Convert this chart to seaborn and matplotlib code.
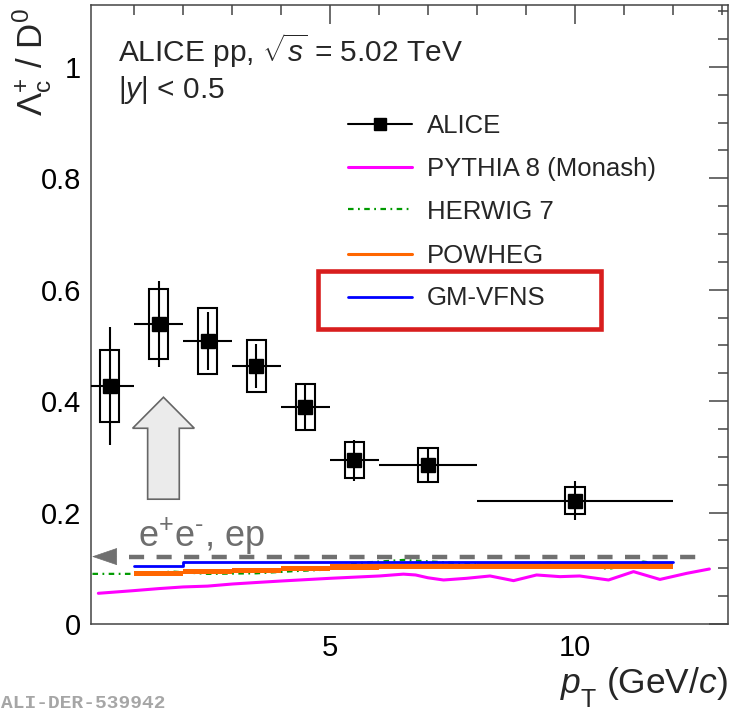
import matplotlib
matplotlib.use("Agg")
import matplotlib.pyplot as plt
import seaborn as sns
from matplotlib.patches import Rectangle, FancyArrow
from matplotlib.ticker import MultipleLocator, FuncFormatter

# ALICE Lambda_c+ / D0 in pp collisions at 5.02 TeV
pt_lo = [0, 1, 2, 3, 4, 5, 6, 8]
pt_hi = [1, 2, 3, 4, 5, 6, 8, 12]
ratio = [0.427, 0.538, 0.508, 0.463, 0.390, 0.294, 0.285, 0.221]
stat_err = [0.106, 0.077, 0.052, 0.040, 0.040, 0.037, 0.031, 0.035]
syst_err = [0.064, 0.063, 0.059, 0.047, 0.041, 0.032, 0.031, 0.024]

# Model predictions, binned (edges) or as curves
model_edges = [1, 2, 3, 4, 5, 6, 8, 12]
powheg_lo = [0.086, 0.089, 0.092, 0.095, 0.097, 0.098, 0.098]
powheg_hi = [0.096, 0.098, 0.101, 0.104, 0.107, 0.108, 0.109]
gmvfns = [0.104, 0.111, 0.111, 0.112, 0.112, 0.112, 0.112]

herwig_pt = [0.15, 1.0, 1.8, 2.5, 3.5, 4.3, 4.8, 5.5, 6.5, 7.5, 8.5, 9.5, 10.7, 11.4, 12.0]
herwig = [0.090, 0.090, 0.094, 0.090, 0.091, 0.095, 0.097, 0.109, 0.115, 0.110,
          0.108, 0.110, 0.099, 0.112, 0.105]

pythia_pt = [0.27, 0.98, 1.5, 2.0, 2.5, 3.01, 3.5, 4.01, 5.0, 6.01, 6.5, 6.75, 7.0, 7.32,
             7.79, 8.27, 8.75, 9.22, 9.70, 10.1, 10.69, 11.2, 11.74, 12.29, 12.75]
pythia = [0.0551, 0.0598, 0.0635, 0.0665, 0.0680, 0.0718, 0.0745, 0.0772, 0.082, 0.0862,
          0.0895, 0.088, 0.083, 0.079, 0.082, 0.0862, 0.0778, 0.088, 0.085, 0.0862,
          0.079, 0.094, 0.080, 0.091, 0.0987]

# e+e- / ep reference value
ee_ep_ratio = 0.121

legend_labels = ["ALICE", "PYTHIA 8 (Monash)", "HERWIG 7", "POWHEG", "GM-VFNS"]

sns.set_theme(style="white")
plt.rcParams["font.family"] = ["Liberation Sans", "DejaVu Sans"]
plt.rcParams["mathtext.fontset"] = "custom"
plt.rcParams["mathtext.rm"] = "Liberation Sans"
plt.rcParams["mathtext.it"] = "Liberation Sans:italic"
plt.rcParams["mathtext.bf"] = "Liberation Sans:bold"

fig = plt.figure(figsize=(7.3, 7.11), dpi=100)
ax = fig.add_axes([91 / 730, 1 - 624 / 711, 637 / 730, 619 / 711])

MAGENTA = "#ff00ff"
GREEN = "#009a00"
ORANGE = "#ff6600"
BLUE = "#0000ff"
HERWIG_LS = (0, (2.5, 2.0, 0.8, 2.0))

# PYTHIA curve
sns.lineplot(x=pythia_pt, y=pythia, ax=ax, color=MAGENTA, lw=2.2,
             estimator=None, sort=False, legend=False, zorder=2)
# HERWIG curve
sns.lineplot(x=herwig_pt, y=herwig, ax=ax, color=GREEN, lw=1.6, linestyle=HERWIG_LS,
             estimator=None, sort=False, legend=False, zorder=2)
# POWHEG band
ax.fill_between(model_edges, powheg_lo + powheg_lo[-1:], powheg_hi + powheg_hi[-1:],
                step="post", color=ORANGE, lw=0, zorder=3)
# GM-VFNS
sns.lineplot(x=model_edges, y=gmvfns + gmvfns[-1:], ax=ax, color=BLUE, lw=2.0,
             drawstyle="steps-post", estimator=None, sort=False, legend=False, zorder=4)

# e+e-, ep reference: dashed line with arrow pointing to the axis
ax.plot([0.9, 12.66], [ee_ep_ratio, ee_ep_ratio], color="#707070", lw=3.2,
        linestyle=(0, (3.4, 2.8)), dash_capstyle="butt", zorder=4)
ax.annotate("", xy=(0.14, ee_ep_ratio), xytext=(0.63, ee_ep_ratio),
            arrowprops=dict(arrowstyle="-|>,head_length=17,head_width=5.8",
                            mutation_scale=1, color="#707070", lw=0.5,
                            shrinkA=0, shrinkB=0), zorder=4)
ax.text(1.08, 0.139, "e$^{+}$e$^{\u2010}$, ep", color="#6e6e6e", fontsize=26,
        ha="left", va="baseline")

# big grey arrow
ax.add_patch(FancyArrow(1.6, 0.224, 0, 0.183, width=0.646, head_width=1.26,
                        head_length=0.0557, length_includes_head=True,
                        facecolor="#ebebeb", edgecolor="#666666", lw=1.2, zorder=3))

# ALICE data points
pt_c = [(a + b) / 2 for a, b in zip(pt_lo, pt_hi)]
pt_w = [(b - a) / 2 for a, b in zip(pt_lo, pt_hi)]
for c, r, s in zip(pt_c, ratio, syst_err):
    ax.add_patch(Rectangle((c - 0.2, r - s), 0.4, 2 * s, fill=False,
                           edgecolor="black", lw=1.5, zorder=5))
ax.errorbar(pt_c, ratio, xerr=pt_w, yerr=stat_err, fmt="s", color="black",
            ms=9.5, elinewidth=1.5, capsize=0, zorder=6)

# axes ranges and ticks
ax.set_xlim(0.12, 13.13)
ax.set_ylim(0, 1.111)
ax.xaxis.set_major_locator(MultipleLocator(5))
ax.xaxis.set_minor_locator(MultipleLocator(1))
ax.yaxis.set_major_locator(MultipleLocator(0.2))
ax.yaxis.set_minor_locator(MultipleLocator(0.05))
ax.yaxis.set_major_formatter(FuncFormatter(
    lambda v, p: "0" if abs(v) < 1e-9 else ("1" if abs(v - 1) < 1e-9 else f"{v:.1f}")))
ax.tick_params(which="both", direction="in", top=True, right=True,
               color="#444444", width=1.1, labelsize=21, labelcolor="black")
ax.tick_params(which="major", length=13.7, pad=7)
ax.tick_params(which="minor", length=7.2)
ax.tick_params(axis="y", which="major", pad=7)
for sp in ax.spines.values():
    sp.set_color("#444444")
    sp.set_linewidth(1.1)
ax.set_xlabel("")
ax.set_ylabel("")

# x-axis title, assembled right to left: "(GeV/c)", subscript "T", "p"
renderer = fig.canvas.get_renderer()
W, H = fig.bbox.width, fig.bbox.height
unit = fig.text(728 / W, 1 - 693 / H, "(GeV/$c$)", fontsize=25.5,
                ha="right", va="baseline")
left = unit.get_window_extent(renderer).x0
sub = fig.text((left - 11) / W, 1 - 707 / H, "T", fontsize=18,
               ha="right", va="baseline")
left = sub.get_window_extent(renderer).x0
fig.text((left + 1) / W, 1 - 693 / H, "$p$", fontsize=25.5,
         ha="right", va="baseline")

# y-axis title
fig.text(42 / 730, 1 - 8 / 711, r"$\Lambda_{\rm c}^{+}$ / D$^{0}$", fontsize=25,
         rotation=90, rotation_mode="anchor", ha="right", va="baseline")

# header text
ax.text(0.0429, 0.9084, r"ALICE pp, $\sqrt{s}$ = 5.02 TeV", transform=ax.transAxes,
        fontsize=21.5, ha="left", va="baseline")
ax.text(0.0429, 0.8493, r"|$y$| < 0.5", transform=ax.transAxes,
        fontsize=21.5, ha="left", va="baseline")

# legend
hx0, hx1, tx = 0.4035, 0.504, 0.5275
handle_y = [0.8078, 0.7383, 0.6704, 0.5977, 0.5283]
text_y = [0.7932, 0.7237, 0.6543, 0.5840, 0.5153]
styles = [
    dict(color="black", lw=1.5),
    dict(color=MAGENTA, lw=2.2),
    dict(color=GREEN, lw=1.6, linestyle=HERWIG_LS),
    dict(color=ORANGE, lw=2.2),
    dict(color=BLUE, lw=2.0),
]
for lab, hy, ty, st in zip(legend_labels, handle_y, text_y, styles):
    ax.plot([hx0, hx1], [hy, hy], transform=ax.transAxes, clip_on=False, **st)
    ax.text(tx, ty, lab, transform=ax.transAxes, fontsize=18.5, ha="left", va="baseline")
ax.plot([(hx0 + hx1) / 2], [handle_y[0]], "s", color="black", ms=9,
        transform=ax.transAxes, clip_on=False)

# highlight box around GM-VFNS entry
ax.add_patch(Rectangle((0.357, 0.4758), 0.8006 - 0.357, 0.5695 - 0.4758,
                       transform=ax.transAxes, fill=False, edgecolor="#d81e1e",
                       lw=3.3, zorder=7, clip_on=False))

fig.text(0.002, 1 - 704 / 711, "ALI-DER-539942", family="Liberation Mono",
         weight="bold", color="#a6a6a6", fontsize=14, ha="left", va="center")

fig.savefig("out.png", dpi=100)
